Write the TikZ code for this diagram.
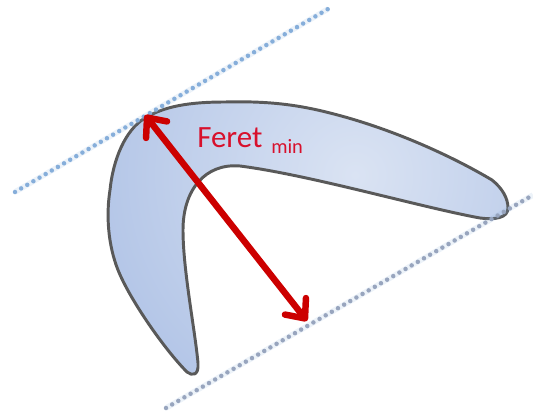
\documentclass[tikz,border=0pt]{standalone}
\usepackage{fontspec}
\setmainfont{Carlito}
\usetikzlibrary{arrows.meta,positioning}
\definecolor{feretred}{HTML}{CC0000}
\definecolor{feretlabel}{HTML}{D8102C}
\definecolor{bodylight}{HTML}{DAE3F3}
\definecolor{bodydark}{HTML}{B0C3E6}
\definecolor{bodyline}{HTML}{595959}
\definecolor{dotblue}{HTML}{86AEDA}
\definecolor{dotgray}{HTML}{98A5BE}
\begin{document}
\begin{tikzpicture}[
  x=0.025cm, y=-0.025cm,
  body/.style={draw=bodyline, line width=2.1pt, line join=round},
  tangent/.style={line width=3.2pt, line cap=round, dash pattern=on 0pt off 5.05pt},
  halo/.style={line width=4pt, opacity=0.15},
  arrow/.style={{Straight Barb[length=11pt, width=19pt, round]}-{Straight Barb[length=11pt, width=19pt, round]}, line width=4.6pt, feretred},
]
\useasboundingbox (0,0) rectangle (533,414);

% Tangent ends and arrow ends
\coordinate (upA) at (15,192);
\coordinate (upB) at (328,9);
\coordinate (lowA) at (166,408);
\coordinate (lowB) at (533,195);
\coordinate (tipA) at (145,115);
\coordinate (tipB) at (307,321);

% Boomerang
\path[body, path picture={
    \shade[inner color=bodylight, outer color=bodydark] (355,175) circle (285);
  }] (145,118) .. controls (165,106) and (190,102) .. (225,102)
  .. controls (265,101) and (295,104) .. (330,113)
  .. controls (390,128) and (450,155) .. (492,180)
  .. controls (502,188) and (508,198) .. (508,208)
  .. controls (508,218) and (495,220) .. (480,218)
  .. controls (420,207) and (310,175) .. (240,166)
  .. controls (205,163) and (183,190) .. (183,230)
  .. controls (183,270) and (195,330) .. (198,363)
  .. controls (199,376) and (192,376) .. (187,372)
  .. controls (165,350) and (130,300) .. (118,270)
  .. controls (108,245) and (106,215) .. (110,190)
  .. controls (113,160) and (125,130) .. (145,118) -- cycle;

% Tangents
\draw[halo, dotblue] (upA) -- (upB);
\draw[halo, dotblue] (lowA) -- (lowB);
\draw[tangent, dotblue] (upA) -- (upB);
\draw[tangent, dotgray] (lowA) -- (lowB);

% Width arrow
\draw[arrow] (tipA) -- (tipB);

% Label
\node[font=\fontsize{22}{26}\selectfont, text=feretlabel, inner sep=0pt, anchor=base west] (feret) at (197,147) {Feret};
\node[font=\fontsize{14.5}{17}\selectfont, text=feretlabel, inner sep=0pt, anchor=base west] (feretmin) at (271,153) {min};
\end{tikzpicture}
\end{document}
